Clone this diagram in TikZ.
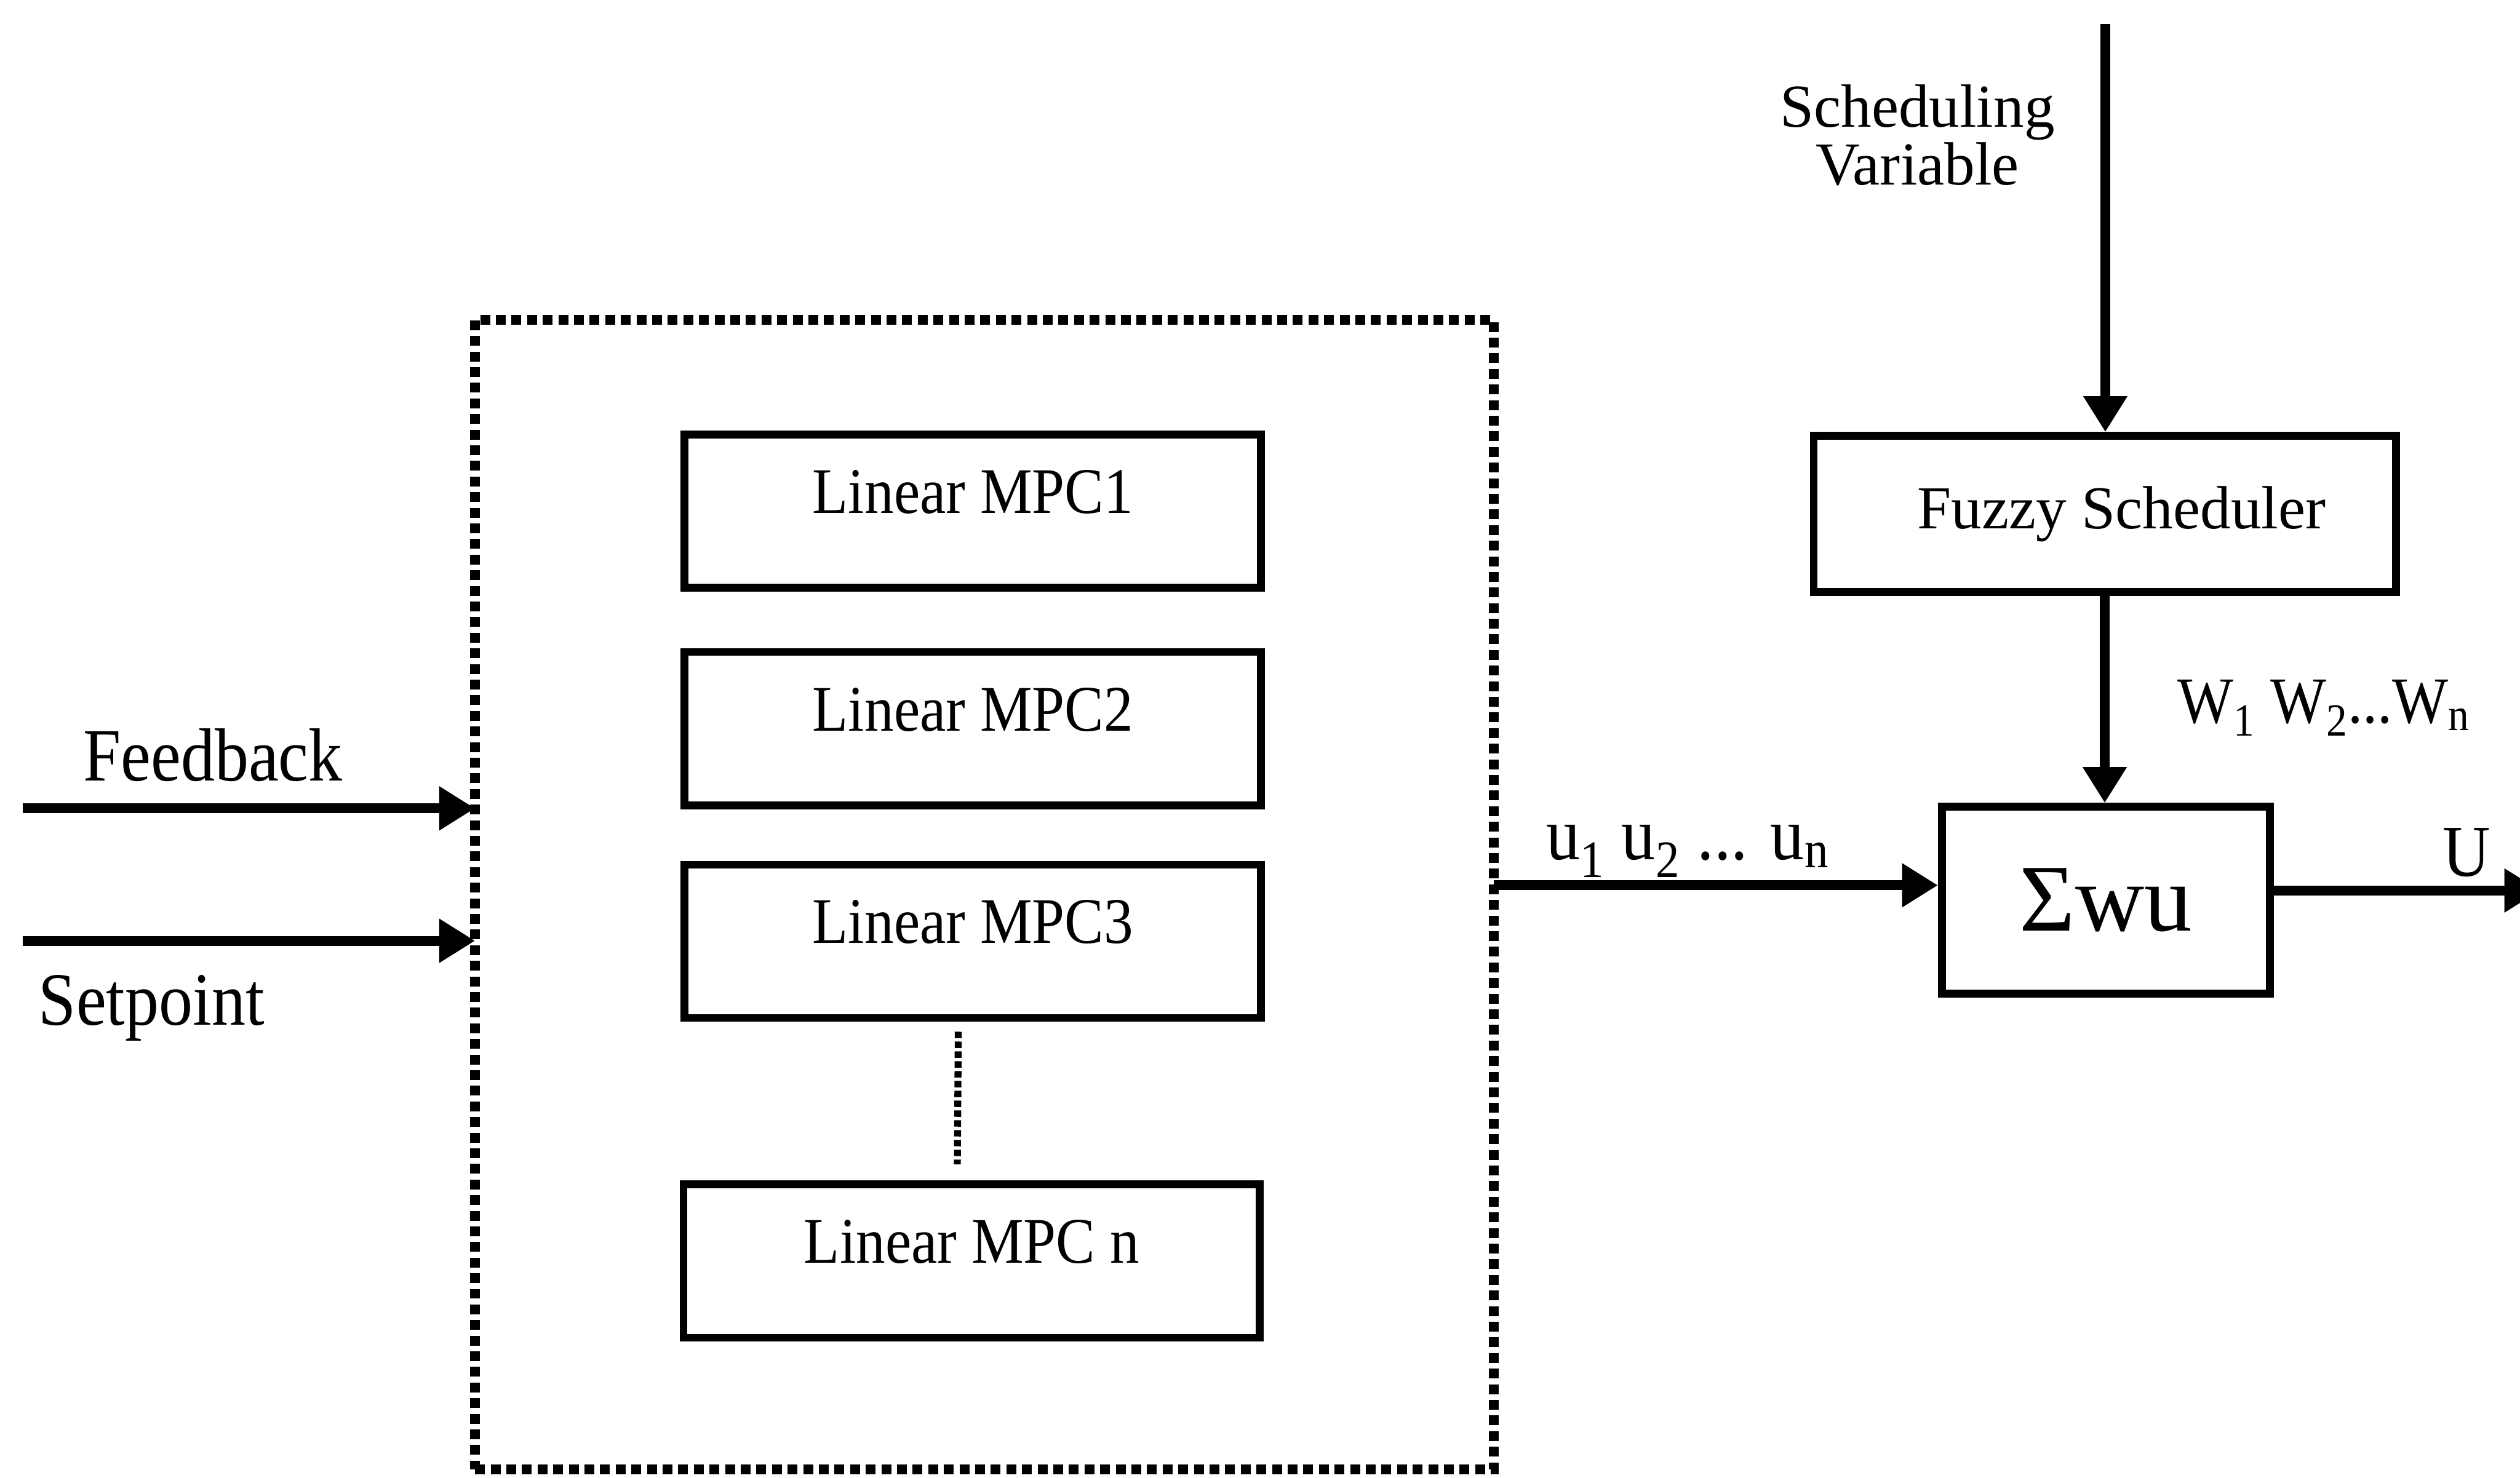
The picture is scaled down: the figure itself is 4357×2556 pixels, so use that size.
\documentclass[tikz,border=0pt]{standalone}
\usepackage{fontspec}
\setmainfont{Liberation Serif}[FakeStretch=0.9]
\newfontfamily\widefont{Liberation Serif}
\usetikzlibrary{arrows.meta}

\begin{document}
\begin{tikzpicture}[x=0.01cm, y=-0.01cm,
  blockline/.style={draw, line width=0.135cm},
  mpctext/.style={font=\fontsize{32}{36}\selectfont, inner sep=0pt},
  mpcbox/.style={blockline, minimum width=9.96cm, minimum height=2.65cm, inner sep=0pt,
    label={[mpctext, yshift=0.33cm]center:#1}},
  groupbox/.style={draw, line width=0.17cm, dash pattern=on 0.17cm off 0.10cm,
    minimum width=17.6cm, minimum height=19.87cm, outer sep=0pt, inner sep=0pt},
  sig/.style={draw, line width=0.17cm, -{Triangle[length=0.62cm, width=0.72cm]}},
  lbl/.style={inner sep=0pt, font=\fontsize{37}{42}\selectfont},
  widelbl/.style={inner sep=0pt, font=\widefont\fontsize{30}{28.5}\selectfont, align=center},
]
\useasboundingbox (0,0) rectangle (4357,2556);

% bank of linear controllers
\node[groupbox] (bank) at (1702,1547) {};
\node[mpcbox={Linear MPC1}] (m1) at (1682,884) {};
\node[mpcbox={Linear MPC2}] (m2) at (1682,1260) {};
\node[mpcbox={Linear MPC3}] (m3) at (1682,1628) {};
\node[mpcbox={Linear MPC n}] (mn) at (1680,2181) {};
\draw[line width=0.12cm, dash pattern=on 0.11cm off 0.06cm, shorten <=0.17cm, shorten >=0.28cm]
  ([xshift=-0.25cm]m3.south) -- ([xshift=-0.25cm]mn.north);

% scheduler and weighted sum
\node[blockline, minimum width=10.06cm, minimum height=2.70cm, inner sep=0pt,
  label={[widelbl, xshift=0.29cm]center:Fuzzy Scheduler}] (fuzzy) at (3639,889) {};
\node[blockline, minimum width=5.67cm, minimum height=3.23cm, inner sep=0pt,
  font=\widefont\fontsize{47}{52}\selectfont] (sum) at (3641,1557) {Σwu};

% signal coordinates
\coordinate (fbin) at (39,1398);
\coordinate (spin) at (39,1627);
\coordinate (schedtop) at (3640,42);
\coordinate (uline) at (0,1531);
\coordinate (Uline) at (0,1540);
\coordinate (uout) at (4392,1540);

% connectors
\draw[sig] (fbin) -- (fbin -| bank.west);
\draw[sig] (spin) -- (spin -| bank.west);
\draw[sig, line width=0.16cm] (schedtop) -- (schedtop |- fuzzy.north);
\draw[sig] (fuzzy.south) -- (fuzzy.south |- sum.north);
\draw[sig] (bank.east |- uline) -- (sum.west |- uline);
\draw[sig] (sum.east |- Uline) -- (uout);

% labels
\node[lbl, anchor=base] (lfb) at (368,1350) {Feedback};
\node[lbl, anchor=base] (lsp) at (262,1773) {Setpoint};
\node[widelbl] (lsv) at (3315,234) {Scheduling\\Variable};
\node[lbl, anchor=base] (lu) at (2918,1487) {u\textsubscript{1} u\textsubscript{2} ... u\textsubscript{n}};
\node[lbl, anchor=base, font=\fontsize{32.4}{36}\selectfont] (lw) at (4018,1250) {W\textsubscript{1} W\textsubscript{2}...W\textsubscript{n}};
\node[lbl, anchor=base, font=\fontsize{36}{40}\selectfont] (lU) at (4265,1515) {U};
\end{tikzpicture}
\end{document}
